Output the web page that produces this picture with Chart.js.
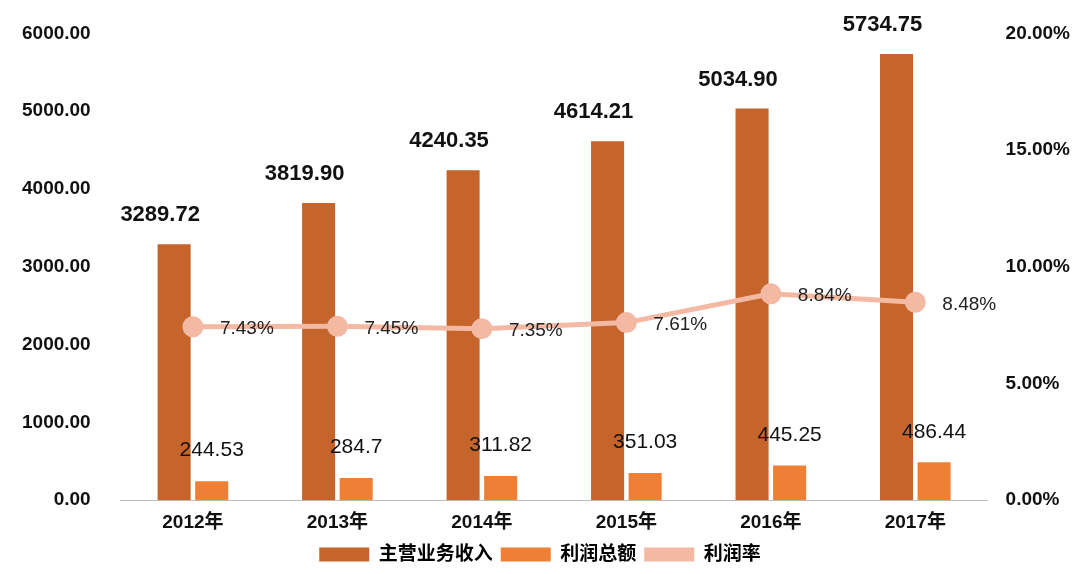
<!DOCTYPE html>
<html><head><meta charset="utf-8">
<script src="https://cdn.jsdelivr.net/npm/chart.js@4"></script>
<style>html,body{margin:0;background:#fff}#w{width:1080px;height:574px}</style>
</head><body><div id="w"><canvas id="c"></canvas></div>
<script>
const categories=['2012年','2013年','2014年','2015年','2016年','2017年'];
const revenue=[3289.72,3819.90,4240.35,4614.21,5034.90,5734.75];
const profit=[244.53,284.7,311.82,351.03,445.25,486.44];
const margin=[7.43,7.45,7.35,7.61,8.84,8.48];
const revenueLabels=['3289.72','3819.90','4240.35','4614.21','5034.90','5734.75'];
const profitLabels=['244.53','284.7','311.82','351.03','445.25','486.44'];
const FF='"Liberation Sans","Noto Sans CJK SC",sans-serif';
const labelPlugin={id:'lbl',afterDatasetsDraw(ch){
  const x=ch.ctx;x.save();x.textAlign='center';x.textBaseline='bottom';x.fillStyle='#111';
  ch.getDatasetMeta(1).data.forEach((b,i)=>{x.font='bold 22px '+FF;x.fillText(revenueLabels[i],b.x-14,b.y-18);});
  ch.getDatasetMeta(2).data.forEach((b,i)=>{x.font='21px '+FF;x.fillText(profitLabels[i],b.x,b.y-20);});
  x.textAlign='left';x.textBaseline='middle';x.fillStyle='#222';
  ch.getDatasetMeta(0).data.forEach((p,i)=>{x.font='19px '+FF;x.fillText(margin[i].toFixed(2)+'%',p.x+27,p.y+2);});
  x.restore();}};
new Chart(document.getElementById('c'),{
 data:{labels:categories,datasets:[
  {type:'line',label:'利润率',data:margin,yAxisID:'y2',borderColor:'#F4B9A2',backgroundColor:'#F4B9A2',borderWidth:5,pointRadius:8,pointHoverRadius:8,order:0},
  {type:'bar',label:'主营业务收入',data:revenue,backgroundColor:'#C5652B',categoryPercentage:0.52,barPercentage:0.88,order:1},
  {type:'bar',label:'利润总额',data:profit,backgroundColor:'#EE7F35',categoryPercentage:0.52,barPercentage:0.88,order:1}
 ]},
 options:{responsive:true,maintainAspectRatio:false,animation:false,
  layout:{padding:{top:0,right:0,left:0,bottom:0}},
  plugins:{legend:{position:'bottom',labels:{font:{family:FF,size:19,weight:'bold'},color:'#111',boxWidth:50,boxHeight:14,padding:8,
    generateLabels(ch){return [1,2,0].map(i=>{const d=ch.data.datasets[i];return {text:d.label,fillStyle:d.backgroundColor,strokeStyle:d.backgroundColor,lineWidth:0,datasetIndex:i};});}}},
   tooltip:{enabled:false}},
  scales:{
   x:{grid:{display:false},border:{display:true,color:'#bbb'},ticks:{font:{family:FF,size:19,weight:'bold'},color:'#111'}},
   y:{min:0,max:6000,ticks:{stepSize:1000,font:{family:FF,size:19,weight:'bold'},color:'#111',callback:v=>v.toFixed(2),padding:22},grid:{display:false},border:{display:false}},
   y2:{position:'right',min:0,max:20,ticks:{stepSize:5,font:{family:FF,size:19,weight:'bold'},color:'#111',callback:v=>v.toFixed(2)+'%',padding:10},grid:{display:false},border:{display:false}}
  }}
 ,plugins:[labelPlugin]});
</script></body></html>
